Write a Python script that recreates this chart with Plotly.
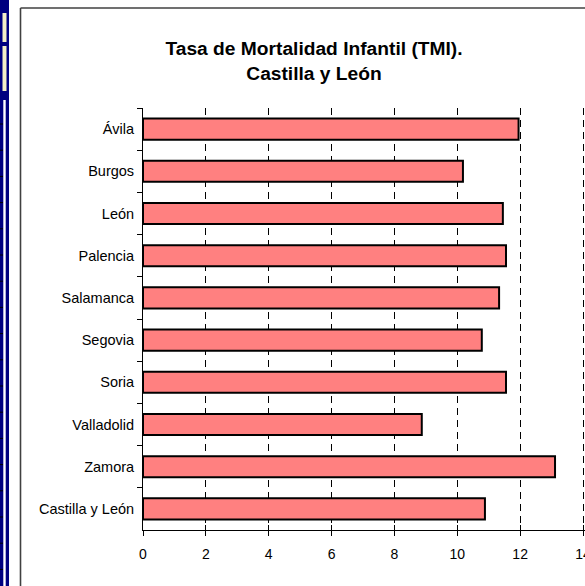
import plotly.graph_objects as go

categories = ["Ávila", "Burgos", "León", "Palencia", "Salamanca", "Segovia",
              "Soria", "Valladolid", "Zamora", "Castilla y León"]
tmi_values = [11.95, 10.18, 11.45, 11.55, 11.33, 10.78, 11.55, 8.87, 13.11, 10.88]
x_ticks = [0, 2, 4, 6, 8, 10, 12, 14]
title_lines = ["Tasa de Mortalidad Infantil (TMI).", "Castilla y León"]

W, H = 585, 586
ML, MR, MT, MB = 143, 0, 108, 56
PW = W - ML - MR
PH = H - MT - MB
X_MAX = 14 * PW / 440.0  # 14 lands at x ~ 583 px

def px(x):
    return (x - ML) / PW

def py(y):
    return (H - MB - y) / PH

fig = go.Figure(go.Bar(
    y=categories, x=tmi_values, orientation="h", width=0.5,
    marker=dict(color="#FF8080", line=dict(color="black", width=2)),
    hoverinfo="x+y",
))
# helper (empty) trace so the overlay axis carrying the inner tick marks is drawn
fig.add_trace(go.Scatter(x=[None], y=[None], xaxis="x2", yaxis="y", mode="markers",
                         hoverinfo="skip", showlegend=False))

shapes = []
# left page decoration (blue strip)
shapes.append(dict(type="rect", xref="paper", yref="paper", x0=px(0), x1=px(9),
                   y0=py(0), y1=py(H), fillcolor="#000080", line=dict(width=0), layer="above"))
shapes.append(dict(type="rect", xref="paper", yref="paper", x0=px(3.3), x1=px(5.7),
                   y0=py(100), y1=py(H), fillcolor="white", line=dict(width=0), layer="above"))
for (a, b) in [(13, 42), (46, 91)]:
    shapes.append(dict(type="rect", xref="paper", yref="paper", x0=px(2.5), x1=px(6.5),
                       y0=py(a), y1=py(b), fillcolor="#F4F0C8", line=dict(width=0), layer="above"))
tick_y = 124.0
while tick_y < H:
    shapes.append(dict(type="line", xref="paper", yref="paper", x0=px(0), x1=px(3),
                       y0=py(tick_y), y1=py(tick_y), line=dict(color="black", width=1), layer="above"))
    tick_y += 26.2
# chart frame (gray)
shapes.append(dict(type="line", xref="paper", yref="paper", x0=px(20.5), x1=px(20.5),
                   y0=py(8), y1=py(H + 5), line=dict(color="#404040", width=1.6), layer="above"))
shapes.append(dict(type="line", xref="paper", yref="paper", x0=px(20.5), x1=px(W + 5),
                   y0=py(8), y1=py(8), line=dict(color="#404040", width=1.6), layer="above"))

fig.update_layout(
    width=W, height=H,
    margin=dict(l=ML, r=MR, t=MT, b=MB, pad=0, autoexpand=False),
    paper_bgcolor="white", plot_bgcolor="white",
    font=dict(family="Liberation Sans, Arial, sans-serif", size=14, color="black"),
    title=dict(text="<b>" + "<br>".join(title_lines) + "</b>",
               x=px(314), xref="paper", xanchor="center",
               y=1 - 55 / H, yanchor="top", font=dict(size=19.2, color="black")),
    showlegend=False,
    bargap=0.5,
    shapes=shapes,
    xaxis=dict(range=[0, X_MAX], tickvals=x_ticks, ticktext=[str(v) for v in x_ticks],
               showgrid=True, gridcolor="black", gridwidth=1, griddash="7px,5px",
               zeroline=False, showline=True, linecolor="black", linewidth=1,
               ticks="outside", ticklen=5, tickcolor="black", tickwidth=1,
               ticklabelstandoff=6, ticklabeloverflow="allow", automargin=False,
               tickfont=dict(size=14), fixedrange=True),
    xaxis2=dict(range=[0, X_MAX], overlaying="x", anchor="y", side="bottom",
                tickvals=x_ticks, showticklabels=False, showgrid=False, zeroline=False,
                showline=False, ticks="inside", ticklen=5, tickcolor="black", tickwidth=1,
                automargin=False, fixedrange=True),
    yaxis=dict(categoryorder="array", categoryarray=categories, autorange="reversed",
               showgrid=False, zeroline=False, showline=True, linecolor="black", linewidth=1,
               ticks="outside", ticklen=5, tickcolor="black", tickwidth=1, tickson="boundaries",
               ticklabelstandoff=5, automargin=False, tickfont=dict(size=14.5), fixedrange=True),
)

fig.write_html(
    "out.html",
    config={"displayModeBar": False},
    post_script="document.body.style.margin='0px';document.body.style.overflow='hidden';",
)
